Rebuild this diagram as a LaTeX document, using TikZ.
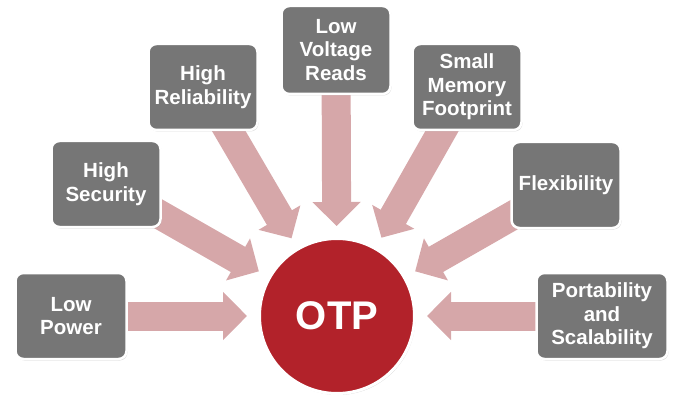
\documentclass[tikz,border=0pt]{standalone}
\usepackage{fontspec}
\setmainfont{Liberation Sans}
\usetikzlibrary{arrows.meta,calc,shadows,backgrounds}
\definecolor{boxgray}{RGB}{118,118,118}
\definecolor{otpred}{RGB}{178,34,42}
\definecolor{arrowpink}{RGB}{214,167,169}

\begin{document}
\begin{tikzpicture}[x=1pt, y=-1pt,
        feat/.style={draw=white, line width=2.5pt, fill=boxgray, rounded corners=8pt,
            minimum width=109pt, minimum height=86pt, align=center, text=white,
            font=\fontsize{20.5}{23.5}\selectfont\bfseries,
            drop shadow={opacity=0.3, shadow xshift=1pt, shadow yshift=-1.5pt}},
        otpnode/.style={circle, draw=white, line width=3pt, fill=otpred, minimum size=155pt,
            text=white, font=\fontsize{40}{44}\selectfont\bfseries,
            drop shadow={opacity=0.3, shadow xshift=1pt, shadow yshift=-1.5pt}},
        feed/.style={draw=arrowpink, line width=29pt, -{Triangle[width=47pt, length=24pt]}}]
        \useasboundingbox (0, 0) rectangle (677, 398);
        \node[otpnode] (otp) at (337, 316) {OTP};
        \node[feat, minimum width=111pt] (power) at (71, 316) {Low\\Power};
        \node[feat] (security) at (106, 184) {High\\Security};
        \node[feat] (reliab) at (203, 87) {High\\Reliability};
        \node[feat, minimum height=88pt] (voltage) at (336, 50) {Low\\Voltage\\Reads};
        \node[feat] (memory) at (467, 87) {Small\\Memory\\Footprint};
        \node[feat] (flex) at (566, 185) {Flexibility};
        \node[feat, minimum width=131pt] (port) at (602, 316) {Portability\\and\\Scalability};
        % arrows behind the boxes
        \begin{scope}[on background layer]
            \foreach \src in {power, security, reliab, voltage, memory, flex, port}
                \draw[feed] (\src.center) -- ($(otp.center)!90pt!(\src.center)$);
        \end{scope}
    \end{tikzpicture}
\end{document}
